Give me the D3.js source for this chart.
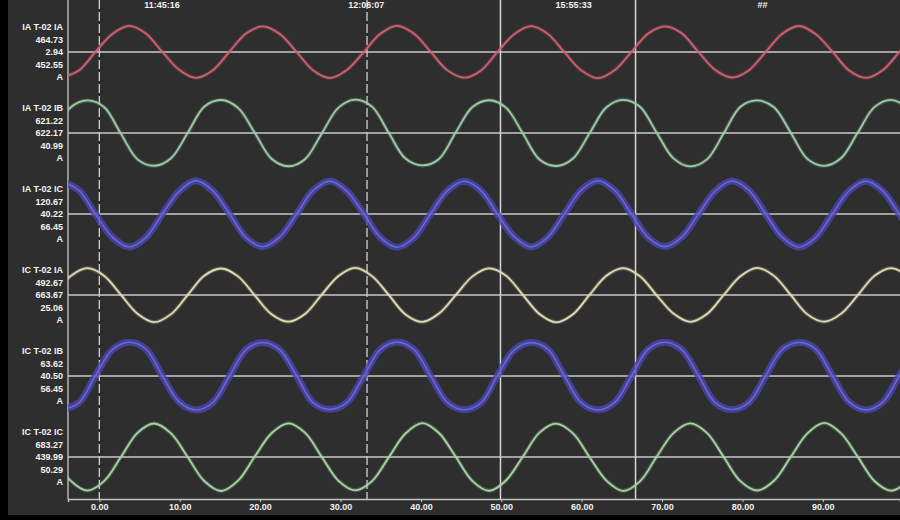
<!DOCTYPE html>
<html>
<head>
<meta charset="utf-8">
<script src="https://cdnjs.cloudflare.com/ajax/libs/d3/7.8.5/d3.min.js"></script>
<style>
  body { margin: 0; background: #000; }
  svg { display: block; }
  .lbl { font-family: "Liberation Sans", Arial, sans-serif; font-weight: bold; font-size: 9px; fill: #f2f2f2; }
</style>
</head>
<body>
<div id="chart"></div>
<script>
// sample times (ms) for the two phase groups
var timesA = [-4.63, -2.55, -0.47, 1.62, 3.70, 5.78, 7.87, 9.95, 12.03, 14.12, 16.20, 18.28, 20.37, 22.45, 24.53, 26.62,
  28.70, 30.78, 32.87, 34.95, 37.03, 39.12, 41.20, 43.28, 45.37, 47.45, 49.53, 51.62, 53.70, 55.78, 57.87, 59.95,
  62.03, 64.12, 66.20, 68.28, 70.37, 72.45, 74.53, 76.62, 78.70, 80.78, 82.87, 84.95, 87.03, 89.12, 91.20, 93.28,
  95.37, 97.45, 99.53, 101.62];
var timesB = [-5.67, -3.58, -1.50, 0.58, 2.67, 4.75, 6.83, 8.92, 11.00, 13.08, 15.17, 17.25, 19.33, 21.42, 23.50, 25.58,
  27.67, 29.75, 31.83, 33.92, 36.00, 38.08, 40.17, 42.25, 44.33, 46.42, 48.50, 50.58, 52.67, 54.75, 56.83, 58.92,
  61.00, 63.08, 65.17, 67.25, 69.33, 71.42, 73.50, 75.58, 77.67, 79.75, 81.83, 83.92, 86.00, 88.08, 90.17, 92.25,
  94.33, 96.42, 98.50, 100.58];

// channel currents (A)
var iaT02IA = [-352, -258, 4, 251, 362, 257, -3, -249, -358, -254, 6, 259, 355, 250, 2, -257,
  -361, -250, -4, 253, 364, 256, 5, -252, -356, -259, 1, 248, 358, 252, -6, -255,
  -363, -251, 3, 257, 357, 259, 0, -250, -354, -256, -2, 254, 361, 248, 4, -258, -359, -253, 2, 256];
var iaT02IB = [5, 355, 452, 362, -8, -366, -455, -350, 3, 368, 458, 349, 4, -358, -462, -364,
  -6, 352, 463, 366, 2, -355, -450, -361, 8, 361, 455, 352, -3, -369, -458, -354,
  0, 357, 461, 365, 5, -352, -464, -367, -4, 364, 452, 357, 6, -360, -456, -351, 2, 359, 460, 354];
var iaT02IC = [452, 330, -5, -320, -458, -328, 4, 318, 463, 322, 2, -331, -455, -319, -3, 327,
  457, 318, 6, -324, -462, -330, 1, 321, 455, 329, -4, -318, -457, -323, 5, 330,
  461, 324, 0, -327, -453, -321, -2, 319, 458, 331, 3, -322, -461, -326, 2, 323, 456, 320, -6, -329];
var icT02IA = [-3, 262, 372, 268, 4, -261, -378, -266, 2, 270, 368, 259, -5, -267, -371, -263,
  6, 264, 377, 262, 1, -270, -374, -258, -2, 259, 370, 269, 3, -264, -379, -267,
  5, 268, 373, 261, -4, -258, -372, -265, 0, 261, 376, 266, 2, -269, -370, -262, -6, 266, 374, 263];
var icT02IB = [-465, -372, 8, 365, 468, 375, -5, -364, -472, -368, 3, 371, 466, 363, 6, -374,
  -463, -370, -4, 367, 471, 369, 2, -366, -468, -375, 5, 362, 464, 372, -3, -369,
  -470, -365, 0, 373, 469, 366, 4, -371, -466, -369, -2, 368, 467, 374, 1, -363, -471, -367, 6, 370];
var icT02IC = [4, -328, -466, -335, -3, 336, 465, 327, -2, -337, -472, -329, 6, 330, 468, 338,
  1, -331, -463, -336, -5, 326, 471, 333, 3, -334, -469, -326, 2, 339, 464, 329,
  -6, -327, -471, -338, 4, 332, 467, 335, 0, -336, -465, -330, -1, 328, 473, 331, 5, -333, -468, -334];

var channelNames = ["IA T-02 IA", "IA T-02 IB", "IA T-02 IC", "IC T-02 IA", "IC T-02 IB", "IC T-02 IC"];
var upperLabels = ["464.73", "621.22", "120.67", "492.67", "63.62", "683.27"];
var midLabels = ["2.94", "622.17", "40.22", "663.67", "40.50", "439.99"];
var lowerLabels = ["452.55", "40.99", "66.45", "25.06", "56.45", "50.29"];
var fullScale = 500;

var xTicks = [0, 10, 20, 30, 40, 50, 60, 70, 80, 90];
var dashedCursors = [0, 33.3];
var solidCursors = [49.9, 66.7];
var topLabelTimes = [7.8, 33.2, 59.0, 82.5];
var topLabels = ["11:45:16", "12:06:07", "15:55:33", "##"];

var channels = [
  { times: timesA, values: iaT02IA, color: "#cf6070", thick: false },
  { times: timesB, values: iaT02IB, color: "#9ccca4", thick: false },
  { times: timesA, values: iaT02IC, color: "#4a46b4", thick: true },
  { times: timesB, values: icT02IA, color: "#dedcb2", thick: false },
  { times: timesA, values: icT02IB, color: "#4a46b4", thick: true },
  { times: timesB, values: icT02IC, color: "#a4d4a2", thick: false }
];

var W = 900, H = 520;
var plotLeft = 68, plotRight = 900, axisY = 499;
var firstCenter = 52, rowStep = 81, halfBand = 36;

var svg = d3.select("#chart").append("svg").attr("width", W).attr("height", H);

svg.append("rect").attr("width", W).attr("height", H).attr("fill", "#000");
svg.append("rect").attr("x", 8).attr("y", 0).attr("width", W - 8).attr("height", 515).attr("fill", "#2e2e2e");

var x = d3.scaleLinear().domain([-3.9, 99.6]).range([plotLeft, plotRight]);

svg.append("clipPath").attr("id", "plotclip")
  .append("rect").attr("x", plotLeft).attr("y", 0).attr("width", plotRight - plotLeft).attr("height", axisY);

// left border of plot
svg.append("line").attr("x1", plotLeft).attr("x2", plotLeft).attr("y1", 0).attr("y2", axisY)
  .attr("stroke", "#b4b4b4").attr("stroke-width", 1.5);

// cursors
svg.selectAll(".dcur").data(dashedCursors).enter().append("line")
  .attr("x1", d => x(d)).attr("x2", d => x(d)).attr("y1", 0).attr("y2", axisY)
  .attr("stroke", "#d0d0d0").attr("stroke-width", 1.3).attr("stroke-dasharray", "9,3");
svg.selectAll(".scur").data(solidCursors).enter().append("line")
  .attr("x1", d => x(d)).attr("x2", d => x(d)).attr("y1", 0).attr("y2", axisY)
  .attr("stroke", "#d8d8d8").attr("stroke-width", 1.5);

svg.selectAll(".toplbl").data(topLabels).enter().append("text")
  .attr("class", "lbl").attr("x", (d, i) => x(topLabelTimes[i])).attr("y", 8)
  .attr("text-anchor", "middle").text(d => d);

channels.forEach(function(ch, i) {
  var cy = firstCenter + rowStep * i;
  var y = d3.scaleLinear().domain([-fullScale, fullScale]).range([cy + halfBand, cy - halfBand]);

  // baseline
  svg.append("line").attr("x1", plotLeft).attr("x2", plotRight).attr("y1", y(0)).attr("y2", y(0))
    .attr("stroke", "#c8c8c8").attr("stroke-width", 1.5);

  var pts = ch.times.map((t, k) => [t, ch.values[k]]);
  var line = d3.line().x(d => x(d[0])).y(d => y(d[1])).curve(d3.curveCatmullRom.alpha(0.5));
  var g = svg.append("g").attr("clip-path", "url(#plotclip)");
  if (ch.thick) {
    g.append("path").attr("d", line(pts)).attr("fill", "none")
      .attr("stroke", ch.color).attr("stroke-width", 7).attr("stroke-opacity", 0.8);
    g.append("path").attr("d", line(pts)).attr("fill", "none")
      .attr("stroke", "#6c66cc").attr("stroke-width", 1.6);
  } else {
    g.append("path").attr("d", line(pts)).attr("fill", "none")
      .attr("stroke", ch.color).attr("stroke-width", 4).attr("stroke-opacity", 0.25);
    g.append("path").attr("d", line(pts)).attr("fill", "none")
      .attr("stroke", ch.color).attr("stroke-width", 1.8);
  }

  // labels
  var texts = [channelNames[i], upperLabels[i], midLabels[i], lowerLabels[i], "A"];
  svg.selectAll(".ch" + i).data(texts).enter().append("text")
    .attr("class", "lbl").attr("x", 63).attr("y", (d, k) => cy + (k - 2) * 12.5)
    .attr("dy", "0.35em").attr("text-anchor", "end").text(d => d);
});

// time axis
var xAxis = d3.axisBottom(x).tickValues(xTicks).tickFormat(d3.format(".2f")).tickSize(3);
var ax = svg.append("g").attr("transform", "translate(0," + axisY + ")").call(xAxis);
ax.select(".domain").attr("stroke", "#c4c4c4").attr("stroke-width", 1.5);
ax.selectAll(".tick line").attr("stroke", "#c4c4c4");
ax.selectAll(".tick text").attr("class", "lbl").attr("fill", "#f2f2f2").attr("y", 5);
</script>
</body>
</html>
